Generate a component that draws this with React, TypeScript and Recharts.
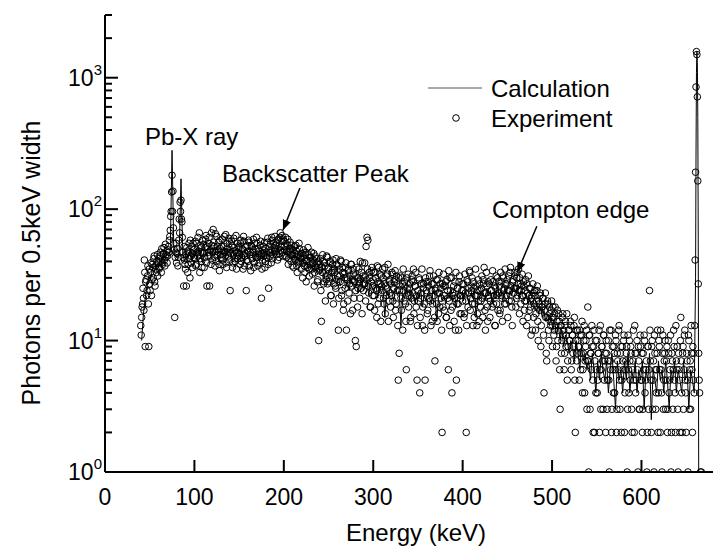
import React from 'react'
import { ComposedChart, Scatter, XAxis, YAxis } from 'recharts'

// experiment: counts in 0.5 keV bins, from 40 keV
// whole-keV bins (40, 41, 42 ...)
const expStart = 40
const exp040 = [
  13, 15, 19, 21, 41, 9, 29, 24, 37, 9,
  27, 33, 22, 38, 30, 44, 26, 35, 40, 31,
  42, 36, 47, 33, 39, 45, 51, 37, 43, 48,
  44, 52, 58, 69, 96, 181, 137, 55, 15, 47,
  39, 50, 43, 84, 113, 117, 80, 47, 26, 41,
  35, 26, 48, 38, 55, 30, 44, 52, 36, 49,
  42, 57, 38, 47, 61, 45, 33, 53, 40, 58,
  46, 36, 51, 63, 26, 44, 55, 26, 49, 66,
  41, 70, 52, 37, 48, 62, 45, 56, 34, 50,
  43, 59, 38, 52, 47, 64, 36, 50, 44, 57,
]
const exp140 = [
  24, 46, 53, 39, 60, 42, 48, 35, 55, 44,
  51, 38, 58, 43, 49, 62, 37, 46, 24, 53,
  40, 56, 45, 34, 52, 47, 59, 39, 50, 43,
  55, 37, 48, 44, 57, 21, 41, 52, 46, 36,
  50, 43, 60, 25, 47, 54, 39, 58, 45, 51,
  62, 48, 55, 41, 59, 46, 66, 52, 63, 44,
  57, 49, 61, 43, 53, 38, 47, 56, 40, 50,
  45, 36, 52, 41, 48, 33, 44, 55, 39, 46,
  42, 30, 49, 37, 45, 28, 40, 51, 35, 43,
  38, 47, 32, 41, 26, 44, 36, 39, 29, 10,
]
const exp240 = [
  35, 42, 14, 33, 40, 28, 37, 31, 44, 27,
  36, 30, 39, 22, 34, 41, 27, 33, 25, 38,
  31, 12, 35, 28, 40, 24, 33, 19, 30, 36,
  12, 29, 34, 23, 31, 38, 26, 17, 32, 28,
  10, 9, 30, 25, 35, 21, 29, 33, 39, 24,
  27, 31, 52, 61, 58, 23, 30, 18, 34, 26,
  29, 22, 33, 25, 15, 28, 36, 21, 27, 31,
  24, 30, 19, 36, 26, 22, 32, 14, 28, 23,
  27, 33, 20, 25, 29, 17, 31, 24, 5, 8,
  26, 21, 30, 12, 24, 28, 19, 6, 25, 32,
]
const exp340 = [
  22, 27, 15, 29, 23, 35, 20, 26, 18, 5,
  24, 30, 4, 21, 27, 13, 25, 19, 5, 28,
  23, 17, 26, 31, 20, 24, 14, 27, 22, 7,
  25, 19, 29, 16, 23, 27, 21, 2, 18, 26,
  22, 28, 15, 24, 6, 20, 30, 17, 4, 23,
  26, 21, 12, 5, 25, 19, 28, 16, 22, 24,
  20, 27, 16, 23, 2, 29, 18, 25, 33, 21,
  24, 19, 28, 15, 22, 26, 13, 24, 20, 27,
  18, 25, 21, 29, 36, 17, 23, 26, 14, 22,
  27, 20, 24, 18, 28, 22, 13, 25, 19, 30,
]
const exp440 = [
  23, 26, 17, 28, 21, 31, 24, 19, 27, 22,
  29, 24, 20, 33, 26, 18, 28, 23, 31, 25,
  21, 33, 27, 24, 30, 19, 26, 22, 28, 17,
  24, 20, 27, 15, 22, 25, 18, 21, 12, 23,
  19, 22, 16, 24, 14, 20, 17, 23, 13, 18,
  21, 4, 19, 15, 7, 20, 12, 18, 14, 17,
  15, 18, 11, 16, 13, 9, 17, 12, 14, 3,
  13, 10, 16, 12, 8, 14, 11, 5, 9, 12,
  10, 13, 7, 11, 9, 15, 2, 12, 8, 10,
  9, 12, 6, 11, 4, 8, 13, 7, 10, 3,
]
const exp540 = [
  18, 1, 11, 8, 6, 9, 2, 12, 7, 4,
  10, 5, 8, 2, 13, 6, 9, 3, 11, 7,
  2, 8, 5, 10, 1, 7, 12, 3, 6, 9,
  4, 11, 2, 8, 6, 13, 3, 9, 5, 7,
  10, 2, 6, 8, 1, 11, 4, 7, 9, 3,
  6, 12, 2, 8, 5, 10, 1, 7, 3, 9,
  5, 2, 8, 11, 4, 6, 1, 9, 3, 24,
  7, 2, 10, 5, 1, 8, 3, 6, 12, 4,
  9, 2, 6, 1, 11, 5, 8, 3, 7, 2,
  10, 4, 6, 1, 8, 3, 12, 5, 2, 7,
  9, 1, 6, 2, 15, 4, 8, 3, 11, 5,
  2, 7, 1, 10, 6, 3, 8, 2, 5, 4,
]
// half-keV bins (40.5, 41.5, 42.5 ...)
const expHalfStart = 40.5
const exp040h = [
  11, 18, 25, 17, 33, 28, 22, 31, 19, 35,
  24, 39, 29, 36, 42, 28, 37, 33, 45, 39,
  35, 44, 40, 50, 38, 46, 41, 54, 45, 39,
  49, 47, 62, 88, 135, 96, 72, 49, 43, 55,
  46, 37, 58, 66, 96, 84, 61, 43, 52, 38,
  45, 51, 33, 47, 42, 58, 39, 46, 55, 43,
  50, 37, 55, 44, 48, 66, 42, 51, 36, 47,
  54, 43, 59, 39, 52, 47, 61, 44, 38, 53,
  47, 56, 43, 65, 40, 52, 49, 38, 58, 45,
  52, 41, 48, 62, 44, 39, 55, 47, 60, 41,
]
const exp140h = [
  49, 57, 36, 45, 51, 40, 63, 47, 42, 52,
  45, 55, 40, 50, 35, 57, 44, 52, 41, 48,
  58, 37, 47, 53, 42, 49, 36, 55, 44, 61,
  43, 50, 39, 53, 46, 35, 49, 44, 56, 40,
  47, 56, 38, 52, 44, 49, 61, 42, 55, 48,
  53, 45, 58, 50, 43, 61, 49, 57, 47, 59,
  52, 44, 55, 48, 59, 42, 50, 45, 53, 37,
  49, 42, 46, 53, 37, 45, 40, 50, 43, 35,
  46, 39, 44, 33, 47, 41, 36, 45, 31, 40,
  43, 35, 39, 46, 33, 37, 42, 28, 40, 34,
]
const exp240h = [
  38, 24, 36, 45, 27, 39, 20, 29, 43, 35,
  28, 40, 22, 33, 38, 19, 35, 26, 42, 29,
  37, 21, 31, 41, 22, 36, 17, 32, 25, 39,
  30, 20, 35, 27, 16, 38, 29, 35, 21, 31,
  24, 36, 18, 30, 28, 40, 25, 16, 31, 27,
  39, 20, 29, 35, 26, 33, 18, 28, 36, 22,
  33, 17, 30, 24, 37, 19, 27, 32, 14, 26,
  35, 21, 27, 16, 31, 25, 38, 20, 29, 18,
  22, 32, 15, 28, 34, 19, 27, 13, 30, 24,
  31, 17, 27, 35, 20, 26, 14, 30, 23, 18,
]
const exp340h = [
  25, 14, 21, 31, 28, 16, 26, 33, 22, 13,
  20, 29, 15, 23, 35, 18, 27, 12, 30, 24,
  16, 28, 21, 34, 13, 27, 19, 31, 15, 24,
  29, 14, 23, 33, 18, 25, 12, 27, 32, 17,
  26, 15, 29, 21, 34, 13, 24, 30, 18, 22,
  14, 28, 33, 19, 25, 12, 31, 22, 16, 27,
  24, 15, 32, 20, 13, 28, 23, 34, 17, 26,
  30, 13, 25, 19, 35, 22, 16, 29, 14, 24,
  20, 31, 15, 27, 23, 12, 33, 18, 28, 21,
  15, 29, 24, 34, 19, 26, 13, 31, 22, 17,
]
const exp440h = [
  28, 16, 33, 22, 14, 30, 25, 35, 19, 27,
  15, 31, 24, 36, 20, 13, 29, 25, 33, 18,
  30, 22, 35, 16, 27, 24, 32, 14, 26, 20,
  29, 13, 23, 31, 17, 25, 11, 22, 27, 15,
  24, 12, 20, 26, 10, 19, 22, 9, 18, 21,
  11, 17, 23, 8, 15, 19, 10, 16, 13, 20,
  9, 15, 12, 18, 7, 14, 10, 16, 6, 13,
  8, 15, 11, 6, 13, 9, 16, 7, 12, 10,
  14, 6, 11, 8, 13, 5, 10, 7, 12, 9,
  5, 11, 8, 14, 6, 10, 4, 9, 12, 7,
]
const exp540h = [
  7, 11, 3, 8, 13, 5, 9, 2, 10, 6,
  4, 8, 12, 6, 3, 9, 7, 11, 5, 8,
  10, 3, 7, 5, 12, 6, 2, 9, 4, 8,
  6, 10, 3, 7, 12, 5, 8, 2, 9, 6,
  11, 4, 7, 9, 3, 6, 10, 5, 8, 2,
  7, 5, 13, 4, 8, 6, 9, 3, 11, 5,
  8, 3, 6, 10, 5, 7, 2, 9, 6, 12,
  5, 9, 3, 7, 11, 6, 4, 8, 2, 10,
  6, 12, 4, 8, 3, 7, 10, 5, 9, 3,
  8, 5, 11, 2, 7, 6, 9, 4, 13, 6,
  3, 8, 5, 10, 7, 2, 9, 6, 12, 4,
  8, 5, 11, 3, 7, 13, 6, 9, 8,
]
// photopeak bins
const expPeakE = [659.5, 660, 660.5, 661, 661.5, 662, 662.5, 663, 663.5, 664, 664.5, 665, 666, 667]
const expPeakN = [13, 41, 191, 850, 1580, 1500, 715, 164, 27, 8, 5, 4, 1, 1]

// calculation: every 2 keV from 41 keV
const calcStart = 41
const calcStep = 2
const calc041 = [
  10, 16, 21, 26, 31, 29, 35, 33, 38, 36,
  40, 38, 43, 41, 46, 44, 48, 280, 47, 44,
  42, 46, 170, 45, 40, 47, 43, 49, 41, 46,
  48, 42, 50, 45, 39, 51, 44, 47, 53, 43,
  49, 46, 52, 40, 48, 45, 51, 43, 47, 50,
  44, 48, 41, 50, 46, 43, 49, 38, 47, 45,
  42, 48, 45, 40, 47, 43, 49, 44, 41, 46,
  48, 43, 46, 50, 44, 49, 47, 52, 48, 51,
  46, 49, 44, 47, 42, 45, 40, 43, 41, 38,
  42, 37, 40, 35, 39, 36, 34, 38, 33, 36,
]
const calc241 = [
  32, 35, 30, 34, 31, 29, 33, 28, 31, 27,
  30, 26, 29, 32, 25, 28, 24, 30, 27, 25,
  28, 23, 27, 30, 24, 26, 29, 22, 27, 25,
  24, 27, 21, 26, 23, 25, 15, 24, 22, 26,
  23, 20, 25, 22, 24, 13, 23, 21, 25, 22,
  20, 24, 22, 19, 23, 21, 25, 18, 22, 20,
  23, 21, 19, 24, 22, 14, 21, 23, 20, 22,
  19, 23, 21, 25, 20, 22, 18, 24, 21, 23,
  20, 24, 22, 19, 23, 21, 25, 15, 22, 24,
  21, 23, 20, 25, 22, 24, 19, 23, 21, 26,
]
const calc441 = [
  22, 24, 20, 25, 23, 21, 24, 22, 26, 23,
  25, 21, 24, 22, 20, 23, 19, 21, 18, 20,
  17, 19, 16, 18, 15, 17, 14, 16, 13, 15,
  12, 14, 11, 13, 10, 12, 9, 11, 10, 8,
  10, 9, 7, 10, 8, 6, 9, 7, 8, 6,
  7, 5, 8, 6, 4, 7, 5, 8, 6, 5,
  7, 4, 6, 8, 5, 3, 7, 5, 6, 4,
  7, 5, 8, 4, 6, 5, 7, 4, 6, 5,
  7, 3, 6, 5, 8, 2.5, 6, 5, 4, 7,
  5, 6, 4, 7, 5, 3, 6, 5, 7, 4,
  6, 5, 4, 7, 5, 6, 3, 6, 5, 4,
]
const calcPeakE = [660.5, 661, 661.5, 662, 662.5, 663, 663.5, 664]
const calcPeakV = [30, 250, 1100, 1580, 1300, 500, 60, 1]

const xTicks = [0, 100, 200, 300, 400, 500, 600]
const yTicks = [
  1, 2, 3, 4, 5, 6, 7, 8, 9,
  10, 20, 30, 40, 50, 60, 70, 80, 90,
  100, 200, 300, 400, 500, 600, 700, 800, 900,
  1000, 2000, 3000,
]

const experiment = [
  ...[...exp040, ...exp140, ...exp240, ...exp340, ...exp440, ...exp540].map((n, i) => ({ x: expStart + i, y: n })),
  ...[...exp040h, ...exp140h, ...exp240h, ...exp340h, ...exp440h, ...exp540h].map((n, i) => ({ x: expHalfStart + i, y: n })),
  ...expPeakE.map((e, i) => ({ x: e, y: expPeakN[i] })),
]

const calculation = [...calc041, ...calc241, ...calc441]
  .map((v, i) => ({ x: calcStart + i * calcStep, y: v }))
  .concat(calcPeakE.map((e, i) => ({ x: e, y: calcPeakV[i] })))

const FONT = "'Liberation Sans', Arial, sans-serif"
const W = 720
const H = 546
const PLOT = { left: 105, top: 15, right: 713, bottom: 472 }
const X_MAX = 680
const Y_MIN = 1
const Y_MAX = 3000
const TICK_GAP = 10

const px = (e: number) => PLOT.left + (e / X_MAX) * (PLOT.right - PLOT.left)
const py = (v: number) =>
  PLOT.bottom - (Math.log10(v / Y_MIN) / Math.log10(Y_MAX / Y_MIN)) * (PLOT.bottom - PLOT.top)

function YTick(props: any) {
  const { x, y, payload } = props
  const axisX = x + TICK_GAP
  const p = Math.log10(payload.value)
  const major = Math.abs(p - Math.round(p)) < 1e-6
  return (
    <g>
      <line x1={axisX} x2={axisX + (major ? 13 : 7)} y1={y} y2={y} stroke="#000" strokeWidth={2} />
      {major && (
        <text x={axisX - 3} y={y + 8} textAnchor="end" fontSize={23} fontFamily={FONT} fill="#000">
          10
          <tspan dy={-11} fontSize={15}>{Math.round(p)}</tspan>
        </text>
      )}
    </g>
  )
}

function XTick(props: any) {
  const { x, y, payload } = props
  const axisY = y - TICK_GAP
  return (
    <g>
      <line x1={x} x2={x} y1={axisY} y2={axisY - 12} stroke="#000" strokeWidth={2} />
      <text x={x} y={axisY + 33} textAnchor="middle" fontSize={23} fontFamily={FONT} fill="#000">
        {payload.value}
      </text>
    </g>
  )
}

const openCircle = (props: any) => (
  <circle cx={props.cx} cy={props.cy} r={3.3} fill="none" stroke="#000" strokeWidth={1} />
)
const noMarker = () => <g />

function Arrow({ e1, v1, e2, v2 }: { e1: number; v1: number; e2: number; v2: number }) {
  return (
    <line x1={px(e1)} y1={py(v1)} x2={px(e2)} y2={py(v2)} stroke="#000" strokeWidth={1.5} markerEnd="url(#arrowHead)" />
  )
}

export default function App() {
  return (
    <div style={{ position: 'absolute', left: 0, top: 0, width: W, height: H, background: '#fff' }}>
      <ComposedChart width={W} height={H} margin={{ top: PLOT.top, right: W - PLOT.right, bottom: 0, left: 5 }}>
        <XAxis
          type="number"
          dataKey="x"
          domain={[0, X_MAX]}
          ticks={xTicks}
          interval={0}
          allowDataOverflow
          height={H - PLOT.bottom}
          axisLine={{ stroke: '#000', strokeWidth: 2 }}
          tickLine={false}
          tickSize={0}
          tickMargin={TICK_GAP}
          tick={<XTick />}
        />
        <YAxis
          type="number"
          dataKey="y"
          scale="log"
          domain={[Y_MIN, Y_MAX]}
          ticks={yTicks}
          interval={0}
          allowDataOverflow
          width={PLOT.left - 5}
          axisLine={{ stroke: '#000', strokeWidth: 2 }}
          tickLine={false}
          tickSize={0}
          tickMargin={TICK_GAP}
          tick={<YTick />}
        />
        <Scatter name="Experiment" data={experiment} shape={openCircle} isAnimationActive={false} />
        <Scatter
          name="Calculation"
          data={calculation}
          line={{ stroke: '#000', strokeWidth: 1 }}
          shape={noMarker}
          isAnimationActive={false}
        />
      </ComposedChart>

      <svg width={W} height={H} style={{ position: 'absolute', left: 0, top: 0, pointerEvents: 'none' }}>
        <defs>
          <marker id="arrowHead" viewBox="0 0 10 10" refX="10" refY="5" markerWidth="7" markerHeight="7" orient="auto">
            <path d="M0,1 L10,5 L0,9 z" fill="#000" />
          </marker>
        </defs>
        <g fontFamily={FONT} fill="#000">
          {/* legend */}
          <line x1={428} x2={482} y1={88} y2={88} stroke="#555" strokeWidth={1} />
          <text x={491} y={97} fontSize={24}>Calculation</text>
          <circle cx={456} cy={118} r={3.3} fill="none" stroke="#000" strokeWidth={1} />
          <text x={491} y={127} fontSize={24}>Experiment</text>

          {/* annotations */}
          <text x={145} y={145} fontSize={24}>Pb-X ray</text>
          <text x={222} y={182} fontSize={24}>Backscatter Peak</text>
          <Arrow e1={218} v1={145} e2={199} v2={69} />
          <text x={492} y={218} fontSize={24}>Compton edge</text>
          <Arrow e1={483} v1={74} e2={461} v2={33} />

          {/* axis titles */}
          <text x={416} y={541} fontSize={24} textAnchor="middle">Energy (keV)</text>
          <text x={40} y={263} fontSize={25} textAnchor="middle" transform="rotate(-90 40 263)">
            Photons per 0.5keV width
          </text>
        </g>
      </svg>
    </div>
  )
}
